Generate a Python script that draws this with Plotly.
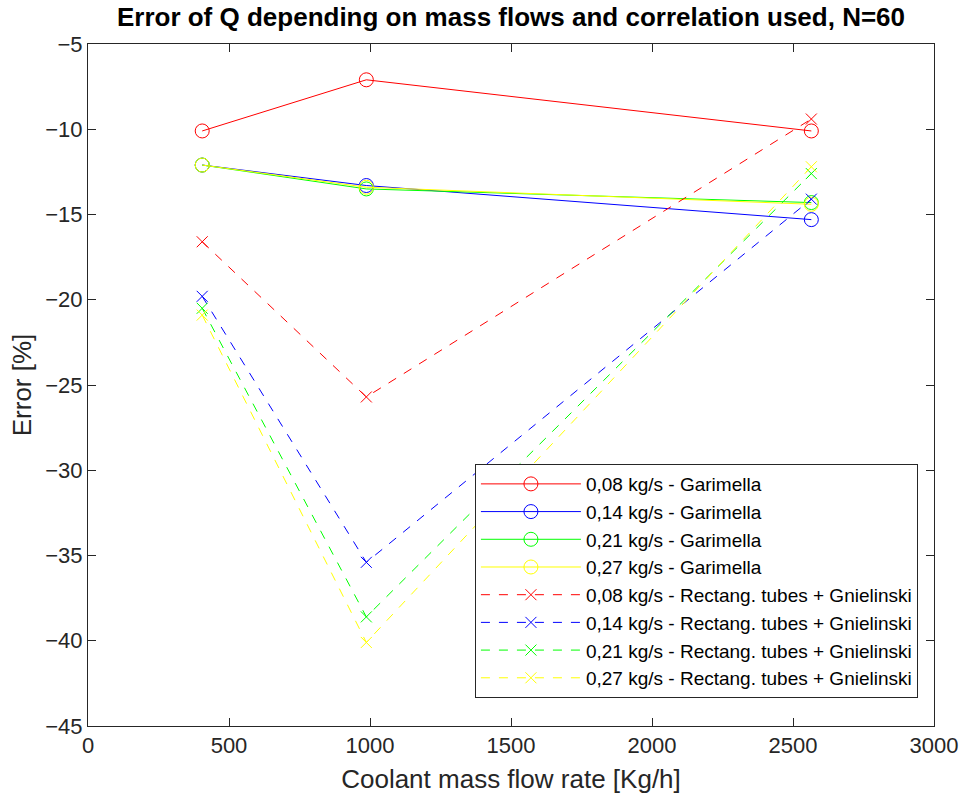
import plotly.graph_objects as go

x_flow = [405, 987, 2565]
labels_g = ["0,08 kg/s - Garimella", "0,14 kg/s - Garimella",
            "0,21 kg/s - Garimella", "0,27 kg/s - Garimella"]
labels_r = ["0,08 kg/s - Rectang. tubes + Gnielinski", "0,14 kg/s - Rectang. tubes + Gnielinski",
            "0,21 kg/s - Rectang. tubes + Gnielinski", "0,27 kg/s - Rectang. tubes + Gnielinski"]
garimella = [
    [-10.1, -7.1, -10.1],
    [-12.1, -13.3, -15.3],
    [-12.1, -13.5, -14.3],
    [-12.1, -13.4, -14.4],
]
rect_gn = [
    [-16.6, -25.7, -9.4],
    [-19.8, -35.4, -14.1],
    [-20.5, -38.6, -12.6],
    [-20.9, -40.1, -12.2],
]
colors = ["#FF0000", "#0000FF", "#00FF00", "#FFFF00"]

fig = go.Figure()
for lab, ys, c in zip(labels_g, garimella, colors):
    fig.add_trace(go.Scatter(x=x_flow, y=ys, name=lab, mode="lines+markers",
                             line=dict(color=c, width=1),
                             marker=dict(symbol="circle-open", size=14, color=c, line=dict(width=1))))
for lab, ys, c in zip(labels_r, rect_gn, colors):
    fig.add_trace(go.Scatter(x=x_flow, y=ys, name=lab, mode="lines+markers",
                             line=dict(color=c, width=1, dash="dash"),
                             marker=dict(symbol="x-thin-open", size=11, color=c, line=dict(width=1, color=c))))

FONT = "Liberation Sans, Arial"
axis_common = dict(showline=True, linecolor="#262626", linewidth=1, mirror="ticks",
                   ticks="inside", ticklen=8, tickcolor="#262626", showgrid=False, zeroline=False,
                   tickfont=dict(family=FONT, size=22, color="#262626"))

fig.update_layout(
    width=970, height=801,
    margin=dict(l=88, r=28, t=44, b=75),
    paper_bgcolor="white", plot_bgcolor="white",
    title=dict(text="<b>Error of Q depending on mass flows and correlation used, N=60</b>",
               x=0.5, xref="paper", xanchor="center", y=0.99, yanchor="top",
               font=dict(family=FONT, size=26, color="black")),
    xaxis=dict(range=[0, 3000], dtick=500, title=dict(text="Coolant mass flow rate [Kg/h]",
               font=dict(family=FONT, size=26, color="#262626"), standoff=12),
               **axis_common),
    yaxis=dict(range=[-45, -5], dtick=5, title=dict(text="Error [%]",
               font=dict(family=FONT, size=26, color="#262626"), standoff=6),
               **axis_common),
    legend=dict(x=0.981, xanchor="right", y=0.041, yanchor="bottom",
                bgcolor="white", bordercolor="#262626", borderwidth=1,
                font=dict(family=FONT, size=19, color="black"),
                itemwidth=100, tracegroupgap=0),
    showlegend=True,
)

fig.write_html("out.html")
